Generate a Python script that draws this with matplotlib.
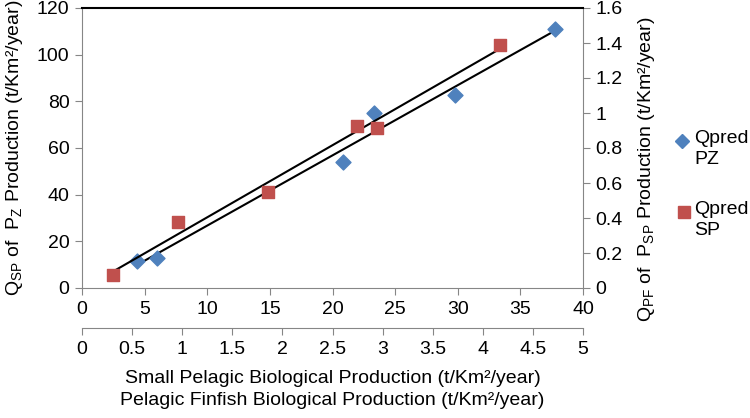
import numpy as np
import matplotlib
matplotlib.use("Agg")
import matplotlib.pyplot as plt
from matplotlib.lines import Line2D

plt.rcParams["font.family"] = ["Liberation Sans", "DejaVu Sans"]
plt.rcParams["mathtext.fontset"] = "custom"
plt.rcParams["mathtext.rm"] = "Liberation Sans"
plt.rcParams["mathtext.it"] = "Liberation Sans"

# Qpred PZ: small pelagic production (0-40) vs Q_SP (0-120)
pz_x = [4.4, 6.0, 20.8, 23.3, 29.8, 37.75]
pz_y = [11.5, 13.0, 54.0, 75.0, 82.7, 111.0]

# Qpred SP: pelagic finfish production (0-5) vs Q_PF (0-1.6)
sp_x = [0.31, 0.96, 1.86, 2.74, 2.94, 4.17]
sp_y = [0.075, 0.377, 0.548, 0.926, 0.914, 1.39]

BLUE = "#4F81BD"
RED = "#C0504D"
GREY = "#868686"
FS = 14

fig = plt.figure(figsize=(7.5, 4.18), dpi=100)
pos = [82 / 750, 1 - 288 / 418, (583 - 82) / 750, (288 - 8) / 418]
ax = fig.add_axes(pos)
ax_r = fig.add_axes(pos)
ax_r.patch.set_visible(False)

# blue series on the main axes
ax.scatter(pz_x, pz_y, marker="D", s=58, color=BLUE, zorder=3)
k, b = np.polyfit(pz_x, pz_y, 1)
xs = np.array([min(pz_x), max(pz_x)])
ax.plot(xs, k * xs + b, color="black", lw=1.5, zorder=2)

# red series on the secondary axes
ax_r.scatter(sp_x, sp_y, marker="s", s=80, color=RED, zorder=3)
k2, b2 = np.polyfit(sp_x, sp_y, 1)
xs2 = np.array([min(sp_x), max(sp_x)])
ax_r.plot(xs2, k2 * xs2 + b2, color="black", lw=1.5, zorder=2)

ax.set_xlim(0, 40)
ax.set_ylim(0, 120)
ax.set_xticks(np.arange(0, 41, 5))
ax.set_yticks(np.arange(0, 121, 20))
ax_r.set_xlim(0, 5)
ax_r.set_ylim(0, 1.6)
ax_r.set_xticks(np.arange(0, 5.01, 0.5))
ax_r.set_xticklabels(["0", "0.5", "1", "1.5", "2", "2.5", "3", "3.5", "4", "4.5", "5"])
ax_r.set_yticks(np.arange(0, 1.61, 0.2))
ax_r.set_yticklabels(["0", "0.2", "0.4", "0.6", "0.8", "1", "1.2", "1.4", "1.6"])

for s in ("top", "right"):
    ax.spines[s].set_visible(False)
for s in ("left", "bottom"):
    ax.spines[s].set_color(GREY)
ax.tick_params(colors=GREY, labelcolor="black", labelsize=FS, length=5,
               direction="out", pad=4)

ax_r.yaxis.tick_right()
ax_r.yaxis.set_label_position("right")
ax_r.spines["left"].set_visible(False)
ax_r.spines["right"].set_color(GREY)
ax_r.spines["bottom"].set_color(GREY)
ax_r.spines["bottom"].set_position(("outward", 28.8))
ax_r.spines["top"].set_color("black")
ax_r.spines["top"].set_linewidth(1.5)
ax_r.tick_params(colors=GREY, labelcolor="black", labelsize=FS, length=5,
                 direction="out", pad=4)

ax.set_ylabel(r"Q$_{\mathregular{SP}}$ of  P$_{\mathregular{Z}}$ Production (t/Km²/year)",
              fontsize=FS)
ax.yaxis.set_label_coords(-0.114, 0.5)
ax_r.set_ylabel(r"Q$_{\mathregular{PF}}$ of  P$_{\mathregular{SP}}$ Production (t/Km²/year)",
                fontsize=FS)
ax_r.yaxis.set_label_coords(1.106, 0.425)
ax_r.set_xlabel("Small Pelagic Biological Production (t/Km²/year)\n"
                "Pelagic Finfish Biological Production (t/Km²/year)",
                fontsize=FS, linespacing=1.4, labelpad=9)

# legend drawn by hand so the marker sits on the first text line
legend_items = [("D", BLUE, 7.2, "Qpred\nPZ", 682, 141),
                ("s", RED, 8.8, "Qpred\nSP", 684, 212)]
for mk, col, ms, lab, xpix, ypix in legend_items:
    fig.add_artist(Line2D([xpix / 750], [1 - ypix / 418], transform=fig.transFigure,
                          marker=mk, color=col, markersize=ms, ls="none"))
    fig.text(694 / 750, 1 - (ypix - 11) / 418, lab, fontsize=FS, va="top",
             ha="left", linespacing=1.3)

fig.savefig("out.png", dpi=100, facecolor="white")
